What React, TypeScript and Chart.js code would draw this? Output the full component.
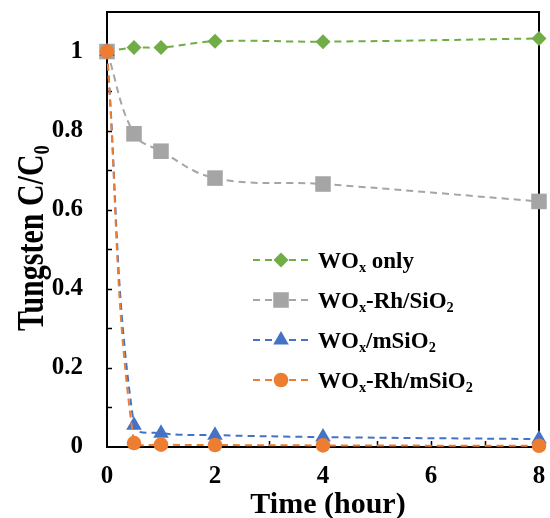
import React, { useEffect, useRef } from "react";
import { Chart, registerables } from "chart.js";

Chart.register(...registerables);

// Sampling times (hours) and normalised tungsten concentration C/C0
const timeHours = [0, 0.5, 1, 2, 4, 8];
const woxOnly = [1, 1.01, 1.01, 1.026, 1.025, 1.033];
const woxRhSiO2 = [1, 0.792, 0.748, 0.68, 0.665, 0.621];
const woxMSiO2 = [1, 0.055, 0.035, 0.03, 0.025, 0.02];
const woxRhMSiO2 = [1, 0.01, 0.006, 0.005, 0.004, 0.003];

const xTicks = [0, 2, 4, 6, 8];
const yTicks = ["0", "0.2", "0.4", "0.6", "0.8", "1"];

type Seg = { t: string; sub?: boolean };

const seriesLabels: Seg[][] = [
  [{ t: "WO" }, { t: "x", sub: true }, { t: " only" }],
  [{ t: "WO" }, { t: "x", sub: true }, { t: "-Rh/SiO" }, { t: "2", sub: true }],
  [{ t: "WO" }, { t: "x", sub: true }, { t: "/mSiO" }, { t: "2", sub: true }],
  [{ t: "WO" }, { t: "x", sub: true }, { t: "-Rh/mSiO" }, { t: "2", sub: true }],
];

const GREEN = "#70AD47";
const GRAY = "#A5A5A5";
const BLUE = "#4472C4";
const ORANGE = "#ED7D31";

const SERIF = '"Liberation Serif", "Times New Roman", serif';
const font = (s: number) => `bold ${s}px ${SERIF}`;

function drawRich(
  ctx: CanvasRenderingContext2D,
  segs: Seg[],
  x: number,
  y: number,
  size: number,
  align: "left" | "center"
) {
  const subSize = size * 0.62;
  const widths = segs.map((s) => {
    ctx.font = font(s.sub ? subSize : size);
    return ctx.measureText(s.t).width;
  });
  const total = widths.reduce((a, b) => a + b, 0);
  let cx = align === "center" ? x - total / 2 : x;
  ctx.textAlign = "left";
  ctx.textBaseline = "alphabetic";
  segs.forEach((s, i) => {
    ctx.font = font(s.sub ? subSize : size);
    ctx.fillText(s.t, cx, s.sub ? y + size * 0.16 : y);
    cx += widths[i];
  });
}

function drawMarker(
  ctx: CanvasRenderingContext2D,
  style: string,
  x: number,
  y: number,
  r: number,
  color: string
) {
  ctx.fillStyle = color;
  ctx.beginPath();
  if (style === "rectRot") {
    ctx.moveTo(x - r, y);
    ctx.lineTo(x, y - r);
    ctx.lineTo(x + r, y);
    ctx.lineTo(x, y + r);
  } else if (style === "rect") {
    const h = r * Math.SQRT1_2;
    ctx.rect(x - h, y - h, 2 * h, 2 * h);
  } else if (style === "triangle") {
    ctx.moveTo(x, y - r);
    ctx.lineTo(x + r * Math.sin((2 * Math.PI) / 3), y + r * 0.5);
    ctx.lineTo(x - r * Math.sin((2 * Math.PI) / 3), y + r * 0.5);
  } else {
    ctx.arc(x, y, r, 0, Math.PI * 2);
  }
  ctx.closePath();
  ctx.fill();
}

const seriesStyles = [
  { color: GREEN, point: "rectRot", radius: 7.5 },
  { color: GRAY, point: "rect", radius: 11 },
  { color: BLUE, point: "triangle", radius: 9 },
  { color: ORANGE, point: "circle", radius: 7.3 },
];
const seriesValues = [woxOnly, woxRhSiO2, woxMSiO2, woxRhMSiO2];

const framePlugin = {
  id: "frameAndTicks",
  beforeDatasetsDraw(chart: any) {
    const { ctx, chartArea: a, scales } = chart;
    ctx.save();
    ctx.strokeStyle = "#000";
    ctx.lineWidth = 2;
    ctx.strokeRect(a.left, a.top, a.right - a.left, a.bottom - a.top);
    ctx.lineWidth = 1.5;
    ctx.beginPath();
    for (let k = 1; k <= 10; k++) {
      const y = Math.round(scales.y.getPixelForValue(k / 10)) + 0.5;
      ctx.moveTo(a.left, y);
      ctx.lineTo(a.left + 5, y);
    }
    for (let k = 1; k < 8; k++) {
      const x = Math.round(scales.x.getPixelForValue(k)) + 0.5;
      ctx.moveTo(x, a.bottom);
      ctx.lineTo(x, a.bottom - 6);
    }
    ctx.stroke();
    ctx.restore();
  },
  afterDraw(chart: any) {
    const { ctx } = chart;
    ctx.save();
    ctx.fillStyle = "#000";

    // axis titles
    drawRich(ctx, [{ t: "Time (hour)" }], 328, 513, 30, "center");
    ctx.save();
    ctx.translate(43, 238);
    ctx.rotate(-Math.PI / 2);
    ctx.scale(1, 1.25);
    ctx.fillStyle = "#000";
    drawRich(ctx, [{ t: "Tungsten C/C" }, { t: "0", sub: true }], 0, 0, 30, "center");
    ctx.restore();

    // legend
    const rowY = [260, 300, 340, 380];
    seriesStyles.forEach((s, i) => {
      const y = rowY[i];
      ctx.save();
      ctx.strokeStyle = s.color;
      ctx.lineWidth = 2;
      ctx.setLineDash([7, 5]);
      ctx.beginPath();
      ctx.moveTo(253, y);
      ctx.lineTo(308, y);
      ctx.stroke();
      ctx.restore();
      drawMarker(ctx, s.point, 281, y, s.radius, s.color);
      ctx.fillStyle = "#000";
      drawRich(ctx, seriesLabels[i], 318, y + 8, 23, "left");
    });
    ctx.restore();
  },
};

export default function App() {
  const canvasRef = useRef<HTMLCanvasElement | null>(null);

  useEffect(() => {
    if (!canvasRef.current) return;
    const datasets = seriesStyles.map((s, i) => ({
      label: seriesLabels[i].map((g) => g.t).join(""),
      data: timeHours.map((t, j) => ({ x: t, y: seriesValues[i][j] })),
      borderColor: s.color,
      backgroundColor: s.color,
      borderWidth: 2,
      borderDash: [7, 5],
      tension: 0.4,
      pointStyle: s.point,
      pointRadius: s.radius,
      pointHoverRadius: s.radius,
      pointBorderWidth: 0,
      pointBackgroundColor: s.color,
      pointBorderColor: s.color,
      clip: false,
      order: 3 - i,
    }));

    const chart = new Chart(canvasRef.current, {
      type: "line",
      data: { datasets },
      plugins: [framePlugin],
      options: {
        animation: false,
        responsive: true,
        maintainAspectRatio: false,
        layout: { padding: { top: 12, right: 9, left: 0, bottom: 0 } },
        plugins: { legend: { display: false }, tooltip: { enabled: false } },
        scales: {
          x: {
            type: "linear",
            min: 0,
            max: 8,
            grid: { display: false, drawTicks: false },
            border: { display: false },
            afterFit: (scale: any) => {
              scale.height = 71;
              scale.paddingLeft = 0;
              scale.paddingRight = 0;
            },
            ticks: {
              stepSize: 1,
              autoSkip: false,
              maxRotation: 0,
              padding: 15,
              color: "#000",
              font: { family: SERIF, size: 25, weight: "bold" },
              callback: (v: any) => {
                const n = Math.round(Number(v));
                return xTicks.includes(n) ? String(n) : "";
              },
            },
          },
          y: {
            type: "linear",
            min: 0,
            max: 1.1,
            grid: { display: false, drawTicks: false },
            border: { display: false },
            afterFit: (scale: any) => {
              scale.width = 107;
              scale.paddingTop = 0;
              scale.paddingBottom = 0;
            },
            ticks: {
              stepSize: 0.1,
              autoSkip: false,
              padding: 24,
              color: "#000",
              font: { family: SERIF, size: 25, weight: "bold" },
              callback: (v: any) => {
                const k = Math.round(Number(v) * 10);
                return k % 2 === 0 && k <= 10 ? yTicks[k / 2] : "";
              },
            },
          },
        },
      },
    });
    return () => chart.destroy();
  }, []);

  return (
    <div style={{ position: "fixed", left: 0, top: 0, width: 550, height: 518, background: "#fff" }}>
      <canvas ref={canvasRef} />
    </div>
  );
}
